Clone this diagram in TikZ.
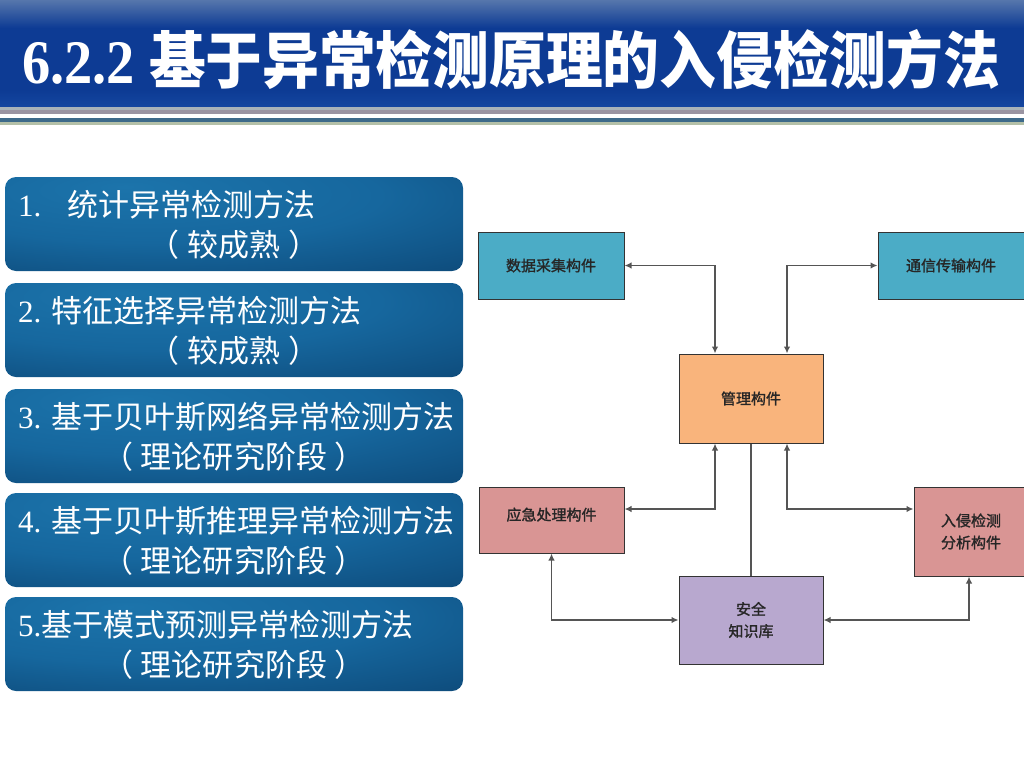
\documentclass[tikz,border=0pt]{standalone}
\usepackage{fontspec}
\usepackage{graphicx}
\setmainfont{Liberation Serif}
\newfontfamily\cjk{Noto Sans CJK SC}
\newfontfamily\cjkmed[FakeBold=1.4]{Noto Sans CJK SC}
\usetikzlibrary{arrows.meta,calc}
\definecolor{hdrtop}{HTML}{5676AC}
\definecolor{hdrmid}{HTML}{0D3B94}
\definecolor{hdrlow}{HTML}{1446A0}
\definecolor{boxlight}{HTML}{1C74AB}
\definecolor{boxlm}{HTML}{16679E}
\definecolor{boxmid}{HTML}{0F4F80}
\definecolor{boxdark}{HTML}{082D4C}
\definecolor{cteal}{HTML}{4BACC6}
\definecolor{corange}{HTML}{F9B47C}
\definecolor{cpink}{HTML}{D99594}
\definecolor{cpurple}{HTML}{B8A8CF}
\definecolor{cline}{HTML}{555555}
\definecolor{stripeA}{HTML}{A9B3B9}
\definecolor{stripeB}{HTML}{9A94A2}
\definecolor{stripeC}{HTML}{3D6A8A}
\definecolor{stripeD}{HTML}{B4C0A8}
\pgfdeclareradialshading{boxshade}{\pgfpoint{-12bp}{20bp}}{color(0bp)=(boxlight); color(25bp)=(boxlm); color(45bp)=(boxmid); color(72bp)=(boxdark); color(100bp)=(boxdark)}
\tikzset{
  method/.style={shape=rectangle, rounded corners=11pt, shading=boxshade, minimum width=458pt, minimum height=94pt, inner sep=0pt},
  mline/.style={anchor=base west, text=white, inner sep=0pt, font=\fontsize{31}{31}\selectfont},
  mline2/.style={anchor=base, text=white, inner sep=0pt, font=\cjk\fontsize{31}{31}\selectfont},
  dbox/.style={draw=black!80, line width=1pt, text=black!85, font=\cjkmed\fontsize{15}{22}\selectfont, align=center, inner sep=0pt},
  conn/.style={draw=cline, line width=1.6pt, {Latex[length=7pt,width=6.5pt]}-{Latex[length=7pt,width=6.5pt]}},
  plainconn/.style={draw=cline, line width=1.6pt}
}
\newcommand{\lparen}{（\hspace{8pt}}
\newcommand{\rparen}{\hspace{8pt}）}
\begin{document}
\begin{tikzpicture}[x=1pt,y=-1pt]
\useasboundingbox (0,0) rectangle (1024,768);
\fill[white] (0,0) rectangle (1024,768);
% header band
\fill[hdrmid] (0,0) rectangle (1024,107);
\shade[top color=hdrtop, bottom color=hdrmid] (0,0) rectangle (1024,28);
\shade[top color=hdrmid, bottom color=hdrlow] (0,90) rectangle (1024,107);
\fill[stripeA] (0,107) rectangle (1024,110);
\fill[stripeB] (0,110) rectangle (1024,114);
\fill[stripeC] (0,118) rectangle (1024,122);
\fill[stripeD] (0,122) rectangle (1024,125);
\node[anchor=base west, text=white, inner sep=0pt] (title) at (22,83)
  {\fontsize{62}{62}\selectfont\scalebox{0.91}[1]{\bfseries 6.2.2}\hspace{14pt}\scalebox{0.915}[1]{\cjk\bfseries 基于异常检测原理的入侵检测方法}};
% method boxes
\node[method] (b1) at (234,224) {};
\node[method] (b2) at (234,330) {};
\node[method] (b3) at (234,436) {};
\node[method] (b4) at (234,540) {};
\node[method] (b5) at (234,644) {};
\node[mline] (b1a) at (18,216) {1.\hspace{26pt}{\cjk 统计异常检测方法}};
\node[mline2] (b1b) at (234,256) {\lparen 较成熟\rparen};
\node[mline] (b2a) at (18,322) {2. {\cjk 特征选择异常检测方法}};
\node[mline2] (b2b) at (234,362) {\lparen 较成熟\rparen};
\node[mline] (b3a) at (18,428) {3. {\cjk 基于贝叶斯网络异常检测方法}};
\node[mline2] (b3b) at (234,468) {\lparen 理论研究阶段\rparen};
\node[mline] (b4a) at (18,532) {4. {\cjk 基于贝叶斯推理异常检测方法}};
\node[mline2] (b4b) at (234,572) {\lparen 理论研究阶段\rparen};
\node[mline] (b5a) at (18,636) {5.{\cjk 基于模式预测异常检测方法}};
\node[mline2] (b5b) at (234,676) {\lparen 理论研究阶段\rparen};
% diagram
\node[dbox, fill=cteal, minimum width=146pt, minimum height=67pt] (data) at (551,265.5) {数据采集构件};
\node[dbox, fill=cteal, minimum width=150pt, minimum height=67pt] (comm) at (953,265.5) {\hspace{-4pt}通信传输构件};
\node[dbox, fill=corange, minimum width=144pt, minimum height=89pt] (mgr) at (751,398.5) {管理构件};
\node[dbox, fill=cpink, minimum width=145pt, minimum height=66pt, text depth=12pt] (emerg) at (551.5,520) {应急处理构件};
\node[dbox, fill=cpink, minimum width=114pt, minimum height=89pt] (ids) at (971,531.5) {入侵检测\\分析构件};
\node[dbox, fill=cpurple, minimum width=144pt, minimum height=88pt] (kb) at (751,620) {安全\\知识库};
\draw[conn] (data.east) -| ([xshift=-36pt]mgr.north);
\draw[conn] (comm.west) -| ([xshift=36pt]mgr.north);
\draw[conn] ([yshift=11pt]emerg.east) -| ([xshift=-36pt]mgr.south);
\draw[conn] ([yshift=22.5pt]ids.west) -| ([xshift=36pt]mgr.south);
\draw[plainconn] (mgr.south) -- (kb.north);
\draw[conn] (emerg.south) |- (kb.west);
\draw[conn] (kb.east) -| ([xshift=-2pt]ids.south);
\end{tikzpicture}
\end{document}
